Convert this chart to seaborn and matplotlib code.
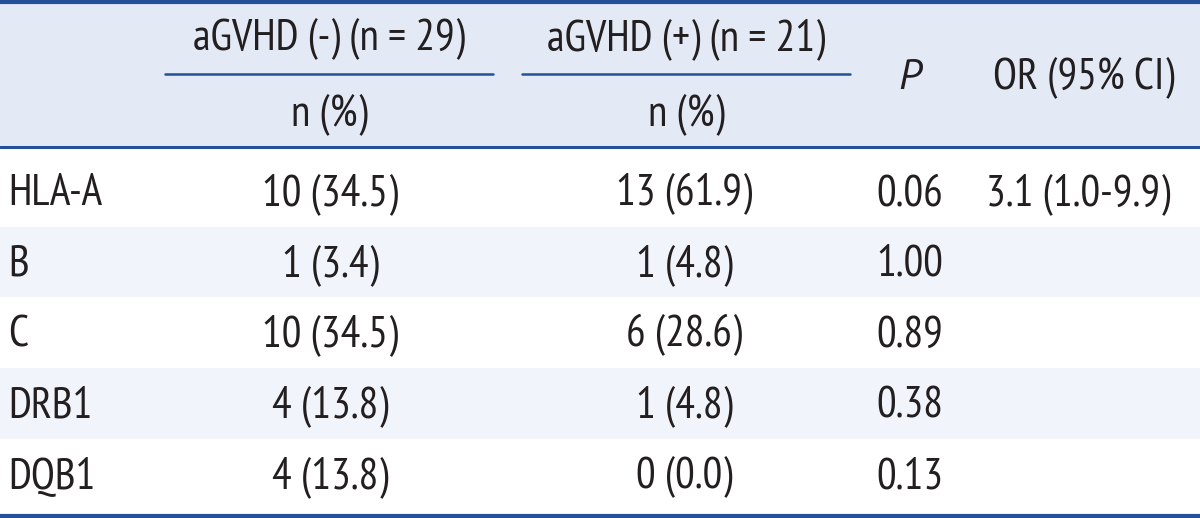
import matplotlib
matplotlib.use("Agg")
import matplotlib.pyplot as plt
from matplotlib import font_manager
import seaborn as sns

# table contents
genes = ["HLA-A", "B", "C", "DRB1", "DQB1"]
neg_counts = ["10 (34.5)", "1 (3.4)", "10 (34.5)", "4 (13.8)", "4 (13.8)"]
pos_counts = ["13 (61.9)", "1 (4.8)", "6 (28.6)", "1 (4.8)", "0 (0.0)"]
p_values = ["0.06", "1.00", "0.89", "0.38", "0.13"]
odds_ratio = ["3.1 (1.0-9.9)", "", "", "", ""]
group_headers = ["aGVHD (-) (n = 29)", "aGVHD (+) (n = 21)"]
sub_header = "n (%)"

sns.set_theme(style="white")
names = {f.name for f in font_manager.fontManager.ttflist}
fam = [f for f in ["PT Sans Narrow", "Roboto Condensed"] if f in names]
plt.rcParams["font.family"] = fam + ["DejaVu Sans"]
ital = [f for f in ["PT Sans", "Roboto Condensed"] if f in names] + ["DejaVu Sans"]

line_col = "#24509a"
head_bg = "#e3eaf5"
alt_bg = "#f1f4fa"
txt_col = "#231f20"
fs = 31.5

fig = plt.figure(figsize=(12, 5.18), dpi=100)
ax = fig.add_axes([0, 0, 1, 1])
ax.set_xlim(0, 1200)
ax.set_ylim(518, 0)
ax.axis("off")

# backgrounds: header band and alternating row bands
ax.axhspan(0, 147, color=head_bg, lw=0)
bounds = [147, 227, 297, 368, 439, 515]
for i in range(len(genes)):
    if i % 2 == 1:
        ax.axhspan(bounds[i], bounds[i + 1], color=alt_bg, lw=0)

# rules
ax.axhline(2, color=line_col, lw=3)
ax.axhline(147, color=line_col, lw=2.2)
ax.axhline(516, color=line_col, lw=3)
ax.plot([165, 493], [74, 74], color=line_col, lw=1.8)
ax.plot([522, 850], [74, 74], color=line_col, lw=1.8)

# header
for x, h in zip([329, 686], group_headers):
    ax.text(x, 50, h, ha="center", va="baseline", fontsize=fs, color=txt_col)
    ax.text(x, 126, sub_header, ha="center", va="baseline", fontsize=fs, color=txt_col)
ax.text(910, 89, "P", ha="center", va="baseline", fontsize=fs - 1, style="italic",
        family=ital, color=txt_col)
ax.text(1084, 89, "OR (95% CI)", ha="center", va="baseline", fontsize=fs, color=txt_col)

# body
col_x = [330, 684, 910, 1078]
for i, g in enumerate(genes):
    y = 205 + 70.8 * i
    ax.text(8, y, g, ha="left", va="baseline", fontsize=fs, color=txt_col)
    for x, col in zip(col_x, [neg_counts, pos_counts, p_values, odds_ratio]):
        ax.text(x, y, col[i], ha="center", va="baseline", fontsize=fs, color=txt_col)

fig.savefig("out.png", dpi=100)
